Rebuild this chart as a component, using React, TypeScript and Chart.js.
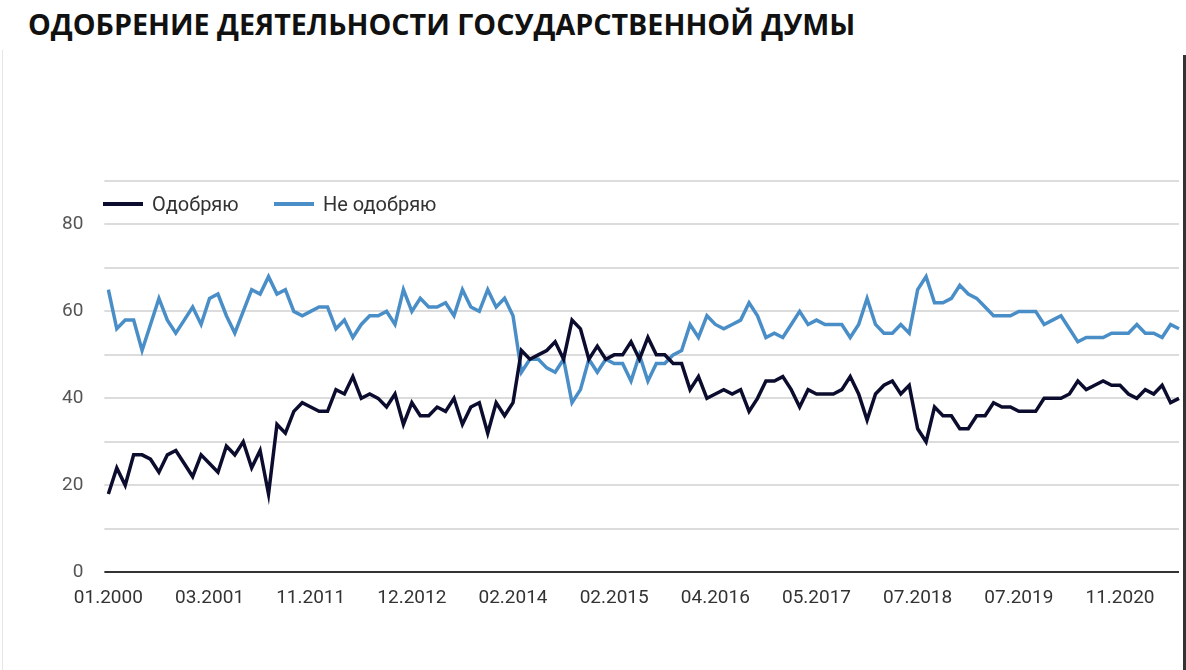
import React, { useEffect, useRef } from 'react';
import { Chart, registerables } from 'chart.js';
import type { ChartConfiguration } from 'chart.js';

Chart.register(...registerables);

// labels shown under the x axis, one every 12 survey points
const tickLabels = [
  '01.2000', '03.2001', '11.2011', '12.2012', '02.2014', '02.2015',
  '04.2016', '05.2017', '07.2018', '07.2019', '11.2020'
];

// "Одобряю", %
const approve = [
  18, 24, 20, 27, 27, 26, 23, 27, 28, 25, 22, 27, 25, 23, 29, 27, 30, 24, 28, 18, 34, 32,
  37, 39, 38, 37, 37, 42, 41, 45, 40, 41, 40, 38, 41, 34, 39, 36, 36, 38, 37, 40, 34,
  38, 39, 32, 39, 36, 39, 51, 49, 50, 51, 53, 49, 58, 56, 49, 52, 49, 50, 50, 53, 49,
  54, 50, 50, 48, 48, 42, 45, 40, 41, 42, 41, 42, 37, 40, 44, 44, 45, 42, 38, 42, 41, 41,
  41, 42, 45, 41, 35, 41, 43, 44, 41, 43, 33, 30, 38, 36, 36, 33, 33, 36, 36, 39, 38,
  38, 37, 37, 37, 40, 40, 40, 41, 44, 42, 43, 44, 43, 43, 41, 40, 42, 41, 43, 39, 40
];

// "Не одобряю", %
const disapprove = [
  65, 56, 58, 58, 51, 57, 63, 58, 55, 58, 61, 57, 63, 64, 59, 55, 60, 65, 64, 68, 64, 65,
  60, 59, 60, 61, 61, 56, 58, 54, 57, 59, 59, 60, 57, 65, 60, 63, 61, 61, 62, 59, 65,
  61, 60, 65, 61, 63, 59, 46, 49, 49, 47, 46, 49, 39, 42, 49, 46, 49, 48, 48, 44, 50,
  44, 48, 48, 50, 51, 57, 54, 59, 57, 56, 57, 58, 62, 59, 54, 55, 54, 57, 60, 57, 58, 57,
  57, 57, 54, 57, 63, 57, 55, 55, 57, 55, 65, 68, 62, 62, 63, 66, 64, 63, 61, 59, 59,
  59, 60, 60, 60, 57, 58, 59, 56, 53, 54, 54, 54, 55, 55, 55, 57, 55, 55, 54, 57, 56
];

const LABEL_STEP = 12;
const DARK = '#0c0d2e';
const BLUE = '#4a8ec8';
const FONT = 'Roboto, "Noto Sans", sans-serif';

const categories = approve.map((_, i) => (i % LABEL_STEP === 0 ? tickLabels[i / LABEL_STEP] ?? '' : ''));

const DumaApprovalChart: React.FC = () => {
  const chartRef = useRef<HTMLCanvasElement>(null);
  const chartInstanceRef = useRef<Chart | null>(null);

  useEffect(() => {
    document.body.style.margin = '0';
    if (!chartRef.current) return;
    if (chartInstanceRef.current) chartInstanceRef.current.destroy();

    const ctx = chartRef.current.getContext('2d');
    if (!ctx) return;

    const config: ChartConfiguration<'line'> = {
      type: 'line',
      data: {
        labels: categories,
        datasets: [
          {
            label: 'Одобряю',
            data: approve,
            borderColor: DARK,
            backgroundColor: DARK,
            borderWidth: 3.5,
            pointRadius: 0,
            tension: 0
          },
          {
            label: 'Не одобряю',
            data: disapprove,
            borderColor: BLUE,
            backgroundColor: BLUE,
            borderWidth: 3.5,
            pointRadius: 0,
            tension: 0
          }
        ]
      },
      options: {
        responsive: true,
        maintainAspectRatio: false,
        animation: false,
        layout: { padding: { left: 41, right: 6, top: 181, bottom: 45 } },
        scales: {
          x: {
            grid: { display: false, drawTicks: false },
            border: { display: false },
            ticks: {
              autoSkip: false,
              maxRotation: 0,
              padding: 15,
              color: '#333',
              font: { family: FONT, size: 19 }
            }
          },
          y: {
            min: 0,
            max: 90,
            border: { display: false },
            grid: {
              color: (c: any) => (c.tick && c.tick.value === 0 ? '#333' : '#dcdcdc'),
              lineWidth: 2,
              tickLength: 4
            },
            ticks: {
              stepSize: 10,
              padding: 21,
              color: '#555',
              font: { family: FONT, size: 19 },
              callback: (v: any) => (Number(v) % 20 === 0 ? String(v) : '')
            }
          }
        },
        plugins: {
          legend: { display: false },
          tooltip: { enabled: false }
        }
      }
    };

    chartInstanceRef.current = new Chart(ctx, config);

    return () => {
      if (chartInstanceRef.current) {
        chartInstanceRef.current.destroy();
        chartInstanceRef.current = null;
      }
    };
  }, []);

  const legendText: React.CSSProperties = {
    position: 'absolute',
    top: 192,
    fontFamily: FONT,
    fontSize: 20,
    color: '#333',
    lineHeight: '24px'
  };

  return (
    <div style={{ position: 'relative', width: 1186, height: 670, background: '#fff', overflow: 'hidden' }}>
      <div style={{
        position: 'absolute',
        left: 28,
        top: 4,
        fontFamily: '"Open Sans", sans-serif',
        fontWeight: 700,
        fontSize: 28.7,
        color: '#111',
        whiteSpace: 'nowrap'
      }}>
        ОДОБРЕНИЕ ДЕЯТЕЛЬНОСТИ ГОСУДАРСТВЕННОЙ ДУМЫ
      </div>

      {/* canvas is a bit wider than the frame so the plot reaches x≈1180 */}
      <div style={{ position: 'absolute', left: 0, top: 0, width: 1194, height: 670 }}>
        <canvas ref={chartRef}></canvas>
      </div>

      {/* legend sits inside the plot, between the 90 and 80 lines */}
      <div style={{ position: 'absolute', left: 103, top: 202, width: 40, height: 4, background: DARK }} />
      <div style={{ ...legendText, left: 152 }}>Одобряю</div>
      <div style={{ position: 'absolute', left: 274, top: 202, width: 40, height: 4, background: BLUE }} />
      <div style={{ ...legendText, left: 323 }}>Не одобряю</div>

      {/* frame edges of the original screenshot */}
      <div style={{ position: 'absolute', left: 2, top: 50, width: 1, height: 620, background: '#e6e6e6' }} />
      <div style={{ position: 'absolute', left: 1183, top: 55, width: 3, height: 615, background: '#333' }} />
    </div>
  );
};

export default DumaApprovalChart;
